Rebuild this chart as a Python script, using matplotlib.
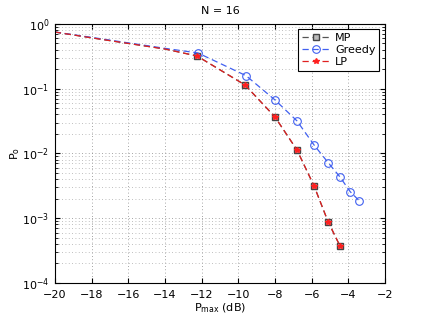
import numpy as np
import matplotlib
matplotlib.use('Agg')
import matplotlib.pyplot as plt
from matplotlib.ticker import LogLocator, NullFormatter

# data
x_lp = [-20, -18, -16, -14, -12.25, -9.63, -8.0, -6.8, -5.87, -5.1, -4.45]
y_lp = [0.75, 0.61, 0.50, 0.41, 0.32, 0.114, 0.0366, 0.0113, 0.00315, 0.000875, 0.00037]
x_gr = [-20, -18, -16, -14, -12.2, -9.58, -8.0, -6.8, -5.87, -5.1, -4.47, -3.9, -3.4]
y_gr = [0.75, 0.62, 0.51, 0.42, 0.356, 0.159, 0.067, 0.0318, 0.0135, 0.0072, 0.00438, 0.00257, 0.00185]
mark_lp = list(range(4, len(x_lp)))
mark_gr = list(range(4, len(x_gr)))

fig = plt.figure(figsize=(4.25, 3.19), dpi=100)
ax = fig.add_axes([0.129, 0.113, 0.777, 0.812])

dash = (0, (5, 3))
ax.semilogy(x_lp, y_lp, ls=dash, color='#555555', marker='s', mfc='#bbbbbb', mec='#444444',
            ms=5, mew=1.0, lw=0.9, markevery=mark_lp, label='MP')
ax.semilogy(x_gr, y_gr, ls=dash, color='#4060f0', marker='o', mfc='none', mec='#4060f0',
            ms=5.5, mew=0.8, lw=0.9, markevery=mark_gr, label='Greedy')
ax.semilogy(x_lp, y_lp, ls=dash, color='#e02020', marker='*', mfc='#ff2020', mec='#ff2020',
            ms=4, lw=0.9, markevery=mark_lp, label='LP')

ax.set_xlim(-20, -2)
ax.set_ylim(1e-4, 1)
ax.set_xticks(np.arange(-20, -1, 2))
ax.set_xticklabels(['\u2212%d' % abs(v) for v in range(-20, -1, 2)])
ax.yaxis.set_major_locator(LogLocator(base=10, numticks=10))
ax.yaxis.set_minor_locator(LogLocator(base=10, subs=np.arange(2, 10), numticks=50))
ax.yaxis.set_minor_formatter(NullFormatter())
ax.grid(True, which='major', ls=(0, (1, 3)), color='#888888', lw=0.6)
ax.grid(True, which='minor', axis='y', ls=(0, (1, 3)), color='#aaaaaa', lw=0.6)
ax.tick_params(which='both', direction='in', top=True, right=True, labelsize=8)
ax.tick_params(axis='x', pad=5)
ax.tick_params(axis='y', pad=4)
ax.tick_params(which='minor', length=2)
for s in ax.spines.values():
    s.set_linewidth(0.8)

ax.set_title('N = 16', fontsize=8, pad=7)
ax.set_xlabel(r'P$_{\mathrm{max}}$ (dB)', fontsize=8, labelpad=1)
ax.set_ylabel(r'P$_{\mathrm{o}}$', fontsize=8, labelpad=0)

leg = ax.legend(loc='upper right', fontsize=8, fancybox=False, framealpha=1,
                edgecolor='black', handlelength=2.6, labelspacing=0.15,
                borderaxespad=0.5, borderpad=0.35, handletextpad=0.4)
leg.get_frame().set_linewidth(0.8)

fig.savefig('out.png', dpi=100)
